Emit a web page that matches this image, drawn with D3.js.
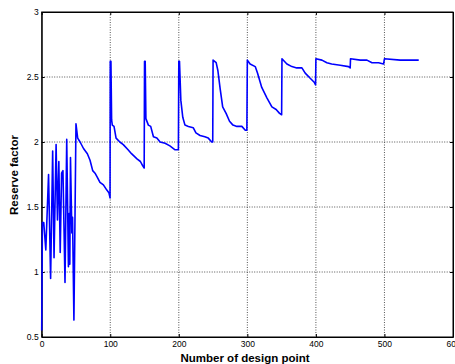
<!DOCTYPE html>
<html>
<head>
<meta charset="utf-8">
<script src="https://cdn.jsdelivr.net/npm/d3@7"></script>
<style>
  body { margin: 0; background: #fff; }
  text { font-family: Arial, "Liberation Sans", sans-serif; }
</style>
</head>
<body>
<svg id="chart" width="455" height="364"></svg>
<script>
'use strict'

// design point index (x) and reserve factor (y)
var designX = [
  0, 1, 3, 6, 10, 13, 16, 18, 21, 23, 25, 27, 29, 31, 34, 36.5, 39, 40, 41, 42, 44, 45, 47,
  50, 52.5, 56, 61, 66.6, 70.5, 74.4, 77.8, 81, 85, 90, 95, 98, 99.7,
  100, 101, 102, 103, 105.5, 108.5, 114, 119, 126, 131, 139, 144, 147, 149.5,
  150, 151, 152, 155.6, 159, 163, 168, 172.7, 180, 187, 194.6, 199.4,
  200, 201, 203, 205.8, 209, 214, 221, 225, 231, 238, 243, 248, 249.5,
  250, 254.5, 257, 260.3, 264, 269, 274, 279, 284.7, 292, 297, 299.3,
  300, 304, 311.5, 314.8, 321, 328.5, 335.8, 342, 347, 350,
  350.5, 357.7, 365, 372, 379.6, 384.4, 391.7, 397.5, 399.5,
  400, 408.8, 416, 423, 435.5, 447.6, 450,
  450.5, 464.7, 474.5, 481.8, 491.4, 498.7,
  500, 523, 550
]
var reserveFactor = [
  0.55, 1.38, 1.38, 1.17, 1.75, 0.95, 1.93, 1.11, 1.98, 1.40, 1.85, 1.15, 1.76, 1.78, 0.92, 2.02, 1.04, 1.45, 1.06, 1.88, 1.30, 1.42, 0.63,
  2.14, 2.03, 2.00, 1.95, 1.91, 1.86, 1.78, 1.76, 1.73, 1.69, 1.67, 1.63, 1.61, 1.57,
  2.62, 2.62, 2.17, 2.13, 2.12, 2.03, 2.00, 1.98, 1.94, 1.91, 1.87, 1.85, 1.82, 1.80,
  2.62, 2.62, 2.18, 2.13, 2.12, 2.04, 2.03, 2.00, 1.99, 1.97, 1.94, 1.94,
  2.62, 2.62, 2.32, 2.19, 2.13, 2.12, 2.11, 2.07, 2.05, 2.04, 2.03, 2.00, 2.00,
  2.63, 2.61, 2.55, 2.41, 2.27, 2.22, 2.16, 2.13, 2.12, 2.12, 2.09, 2.09,
  2.63, 2.60, 2.58, 2.53, 2.42, 2.34, 2.27, 2.25, 2.22, 2.21,
  2.64, 2.60, 2.58, 2.57, 2.57, 2.53, 2.49, 2.46, 2.44,
  2.64, 2.63, 2.61, 2.60, 2.59, 2.58, 2.57,
  2.64, 2.63, 2.63, 2.61, 2.61, 2.60,
  2.64, 2.63, 2.63
]
var xTicks = [0, 100, 200, 300, 400, 500, 600]
var yTicks = [0.5, 1, 1.5, 2, 2.5, 3]

var svg = d3.select("#chart"),
    margin = {top: 12, right: 2, bottom: 27, left: 41.7},
    width = svg.attr("width") - margin.left - margin.right,
    height = svg.attr("height") - margin.top - margin.bottom;

var g = svg.append("g")
    .attr("transform", "translate(" + margin.left + "," + margin.top + ")");

var x = d3.scaleLinear().domain([0, 600]).range([0, width])
var y = d3.scaleLinear().domain([0.5, 3]).range([height, 0])

//dotted grid
g.append("g").selectAll("line")
  .data(xTicks.slice(1, -1))
  .enter().append("line")
    .attr("x1", d => x(d)).attr("x2", d => x(d))
    .attr("y1", 0).attr("y2", height)
    .attr("stroke", "#555").attr("stroke-dasharray", "1,1.5")
g.append("g").selectAll("line")
  .data(yTicks.slice(1, -1))
  .enter().append("line")
    .attr("y1", d => y(d)).attr("y2", d => y(d))
    .attr("x1", 0).attr("x2", width)
    .attr("stroke", "#555").attr("stroke-dasharray", "1,1.5")

//axes, ticks pointing inward like matlab
var xAxis = g.append("g")
  .attr("transform", "translate(0," + height + ")")
  .call(d3.axisBottom(x).tickValues(xTicks).tickSizeInner(-3).tickSizeOuter(0).tickPadding(4))
var yAxis = g.append("g")
  .call(d3.axisLeft(y).tickValues(yTicks).tickFormat(d3.format("")).tickSizeInner(-3).tickSizeOuter(0).tickPadding(3))
g.append("g")
  .call(d3.axisTop(x).tickValues(xTicks).tickSizeInner(-3).tickSizeOuter(0).tickFormat(""))
g.append("g")
  .attr("transform", "translate(" + width + ",0)")
  .call(d3.axisRight(y).tickValues(yTicks).tickSizeInner(-3).tickSizeOuter(0).tickFormat(""))

g.selectAll(".tick text")
  .attr("font-size", "8.5px")
  .attr("font-family", "Arial, 'Liberation Sans', sans-serif")
  .attr("fill", "#000")
g.selectAll(".domain").attr("stroke", "#000")

g.append("rect")
  .attr("width", width).attr("height", height)
  .attr("fill", "none").attr("stroke", "#000").attr("stroke-width", 1)

//the curve
var pts = designX.map((d, i) => [d, reserveFactor[i]])
g.append("path")
  .datum(pts)
  .attr("fill", "none")
  .attr("stroke", "#0000ff")
  .attr("stroke-width", 1.6)
  .attr("stroke-linejoin", "round")
  .attr("d", d3.line().x(d => x(d[0])).y(d => y(d[1])))

//labels
svg.append("text")
  .attr("x", 245).attr("y", 362)
  .attr("text-anchor", "middle")
  .attr("font-size", "11.5px").attr("font-weight", "bold")
  .text("Number of design point")
svg.append("text")
  .attr("transform", "translate(18,175) rotate(-90)")
  .attr("text-anchor", "middle")
  .attr("font-size", "11.5px").attr("font-weight", "bold")
  .text("Reserve factor")
</script>
</body>
</html>
